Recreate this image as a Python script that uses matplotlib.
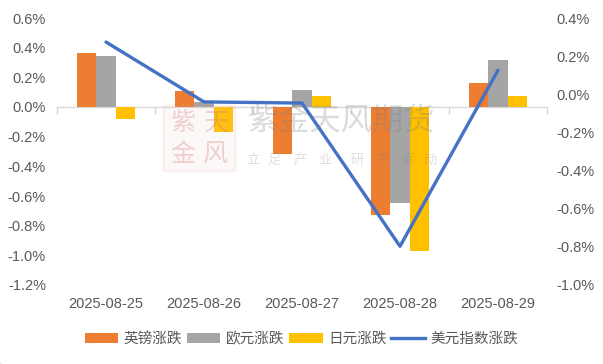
import matplotlib
matplotlib.use("Agg")
import matplotlib.pyplot as plt
import matplotlib.transforms as mtrans
import numpy as np
from matplotlib.patches import FancyBboxPatch, Patch
from matplotlib.lines import Line2D

dates = ["2025-08-25", "2025-08-26", "2025-08-27", "2025-08-28", "2025-08-29"]
gbp = [0.364, 0.108, -0.32, -0.73, 0.164]
eur = [0.343, 0.036, 0.114, -0.65, 0.316]
jpy = [-0.083, -0.166, 0.074, -0.97, 0.074]
usd_index = [0.274, -0.040, -0.046, -0.797, 0.126]
series_names = ["英镑涨跌", "欧元涨跌", "日元涨跌", "美元指数涨跌"]
left_ticks = [0.6, 0.4, 0.2, 0.0, -0.2, -0.4, -0.6, -0.8, -1.0, -1.2]
right_ticks = [0.4, 0.2, 0.0, -0.2, -0.4, -0.6, -0.8, -1.0]

C_ORANGE = "#ED7D31"
C_GRAY = "#A5A5A5"
C_YELLOW = "#FFC000"
C_BLUE = "#4472C4"
TXT = "#595959"
CJK = ["Liberation Sans", "Noto Sans CJK SC", "DejaVu Sans"]
NARROW = ["Liberation Sans Narrow", "Liberation Sans", "DejaVu Sans"]
CJKONLY = ["Noto Sans CJK SC"]

plt.rcParams["font.family"] = CJK

fig = plt.figure(figsize=(6.03, 3.64), dpi=100)
fig.patch.set_facecolor("white")
ax = fig.add_axes([57/603, 1-285/364, (547-57)/603, (285-18)/364])
ax.set_facecolor("none")

x = np.arange(len(dates))
w = 0.194
ax.bar(x - w, gbp, w, color=C_ORANGE, zorder=3)
ax.bar(x, eur, w, color=C_GRAY, zorder=3)
ax.bar(x + w, jpy, w, color=C_YELLOW, zorder=3)

ax.set_xlim(-0.5, len(dates) - 0.5)
ax.set_ylim(-1.2, 0.6)
ax.set_yticks(left_ticks)
ax.set_yticklabels([f"{v:.1f}%" for v in left_ticks], fontsize=10.5, color=TXT, family=NARROW)
ax.tick_params(axis="y", length=0, pad=8)

for s in ["top", "right", "left"]:
    ax.spines[s].set_visible(False)
ax.spines["bottom"].set_position(("data", 0))
ax.spines["bottom"].set_color("#D9D9D9")
ax.spines["bottom"].set_linewidth(1)
ax.spines["bottom"].set_zorder(2)
ax.set_xticks(np.arange(len(dates) + 1) - 0.5)
ax.set_xticklabels([])
ax.tick_params(axis="x", direction="out", length=5, color="#D9D9D9", width=1)

trans = mtrans.blended_transform_factory(ax.transData, ax.transAxes)
for i, d in enumerate(dates):
    ax.text(i, -19/267, d, transform=trans, ha="center", va="center",
            fontsize=10.5, color=TXT, family=["Liberation Sans", "DejaVu Sans"])

ax2 = ax.twinx()
ax2.set_facecolor("none")
ax2.plot(x, usd_index, color=C_BLUE, lw=2.4, zorder=4, solid_capstyle="round")
ax2.set_ylim(-1.0, 0.4)
ax2.set_yticks(right_ticks)
ax2.set_yticklabels([f"{v:.1f}%" for v in right_ticks], fontsize=10.5, color=TXT, family=NARROW)
ax2.tick_params(axis="y", length=0, pad=7)
for s in ["top", "right", "left", "bottom"]:
    ax2.spines[s].set_visible(False)

# watermark (semi-transparent, drawn over the chart)
WM = "#7f7f7f"
fig.text(342/603, 1-122/364, "紫金天风期货", fontsize=22.5, color=WM, alpha=0.28,
         ha="center", va="center", family=CJKONLY, zorder=20)
fig.lines.append(Line2D([248/603, 437/603], [1-145/364, 1-145/364], color=WM, alpha=0.15,
                        lw=0.8, zorder=20))
for ch, px in zip("立足产业研究驱动", [253, 274, 300, 325, 357, 383, 407, 430]):
    fig.text(px/603, 1-160/364, ch, fontsize=9.5, color=WM, alpha=0.25,
             ha="center", va="center", family=CJKONLY, zorder=20)
seal = FancyBboxPatch((166/603, 1-170/364), 67/603, 63/364, boxstyle="round,pad=0.004",
                      transform=fig.transFigure, facecolor="#f0c0c0", edgecolor="#d88080",
                      alpha=0.10, lw=1.5, zorder=19)
fig.patches.append(seal)
for ch, px, py in [("紫", 183, 123), ("天", 216, 123), ("金", 183, 155), ("风", 216, 155)]:
    fig.text(px/603, 1-py/364, ch, fontsize=18, color="#d07070", alpha=0.3,
             ha="center", va="center", family=CJKONLY, zorder=20)

handles = [Patch(facecolor=C_ORANGE), Patch(facecolor=C_GRAY), Patch(facecolor=C_YELLOW),
           Line2D([0], [0], color=C_BLUE, lw=2.4)]
leg = fig.legend(handles, series_names, loc="center", bbox_to_anchor=(0.5, 1-339/364), ncol=4,
                 frameon=False, fontsize=10.5, handlelength=2.3, handleheight=0.6,
                 handletextpad=0.4, columnspacing=0.3, borderaxespad=0)
for t in leg.get_texts():
    t.set_color(TXT)
    t.set_family(CJKONLY)

fig.savefig("out.png", dpi=100, facecolor="white")
